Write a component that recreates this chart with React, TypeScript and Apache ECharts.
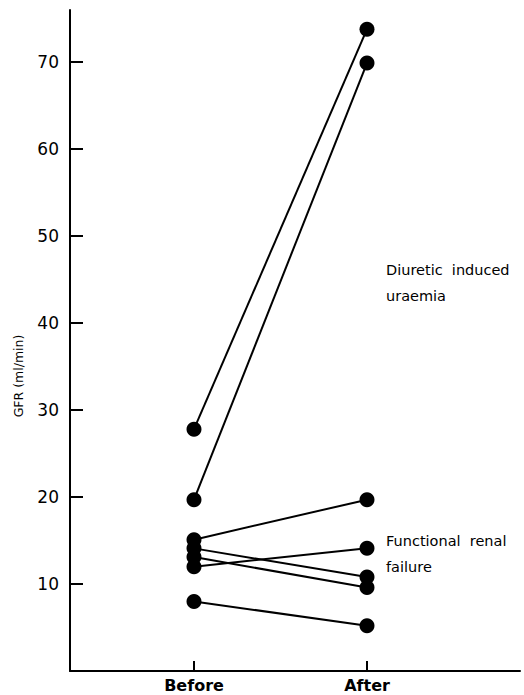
import React, { useEffect, useRef } from "react";
import * as echarts from "echarts";

const categories = ["Before", "After"];
const beforeValues = [27.8, 19.7, 15.1, 14.1, 13.1, 12.0, 8.0];
const afterValues = [73.8, 69.9, 19.7, 10.8, 9.6, 14.1, 5.2];
const yTicks = [10, 20, 30, 40, 50, 60, 70];
const yAxisTitle = "GFR (ml/min)";
const groupLabels = [
  { text: "Diuretic  induced\nuraemia", x: 386, y: 257 },
  { text: "Functional  renal\nfailure", x: 386, y: 528 },
];

export default function App() {
  const ref = useRef<HTMLDivElement>(null);
  useEffect(() => {
    if (!ref.current) return;
    const chart = echarts.init(ref.current, null, { renderer: "svg" });
    const font = "DejaVu Sans";
    const series = beforeValues.map((b, i) => ({
      type: "line",
      data: [
        [1, b],
        [2, afterValues[i]],
      ],
      symbol: "circle",
      symbolSize: 15,
      itemStyle: { color: "#000" },
      lineStyle: { color: "#000", width: 2 },
      z: 3,
    }));
    chart.setOption({
      animation: false,
      backgroundColor: "#fff",
      grid: { left: 70, right: 4, top: 10, bottom: 24 },
      xAxis: {
        type: "value",
        min: 1 - 124 / 173,
        max: 1 - 124 / 173 + 450 / 173,
        splitLine: { show: false },
        axisLine: { lineStyle: { color: "#000", width: 2 } },
        axisTick: {
          show: true,
          inside: true,
          length: 10,
          customValues: [1, 2],
          lineStyle: { color: "#000", width: 2 },
        },
        axisLabel: {
          customValues: [1, 2],
          formatter: (v: number) => categories[Math.round(v) - 1] ?? "",
          color: "#000",
          fontFamily: font,
          fontWeight: "bold",
          fontSize: 16,
          margin: 6,
        },
      },
      yAxis: {
        type: "value",
        min: 0,
        max: 76,
        splitLine: { show: false },
        axisLine: { lineStyle: { color: "#000", width: 2 } },
        axisTick: {
          show: true,
          inside: true,
          length: 13,
          customValues: yTicks,
          lineStyle: { color: "#000", width: 2 },
        },
        axisLabel: {
          customValues: yTicks,
          color: "#000",
          fontFamily: font,
          fontSize: 17,
          margin: 11,
        },
      },
      graphic: [
        {
          type: "text",
          x: 18,
          y: 376,
          rotation: Math.PI / 2,
          style: {
            text: yAxisTitle,
            fontFamily: font,
            fontSize: 12.5,
            fill: "#000",
            align: "center",
            verticalAlign: "middle",
          },
        },
        ...groupLabels.map((g) => ({
          type: "text",
          x: g.x,
          y: g.y,
          style: {
            text: g.text,
            fontFamily: font,
            fontSize: 14.5,
            lineHeight: 26,
            fill: "#000",
          },
        })),
      ],
      series,
    });
    return () => chart.dispose();
  }, []);
  return (
    <div
      ref={ref}
      style={{ position: "fixed", left: 0, top: 0, width: 524, height: 695 }}
    />
  );
}
